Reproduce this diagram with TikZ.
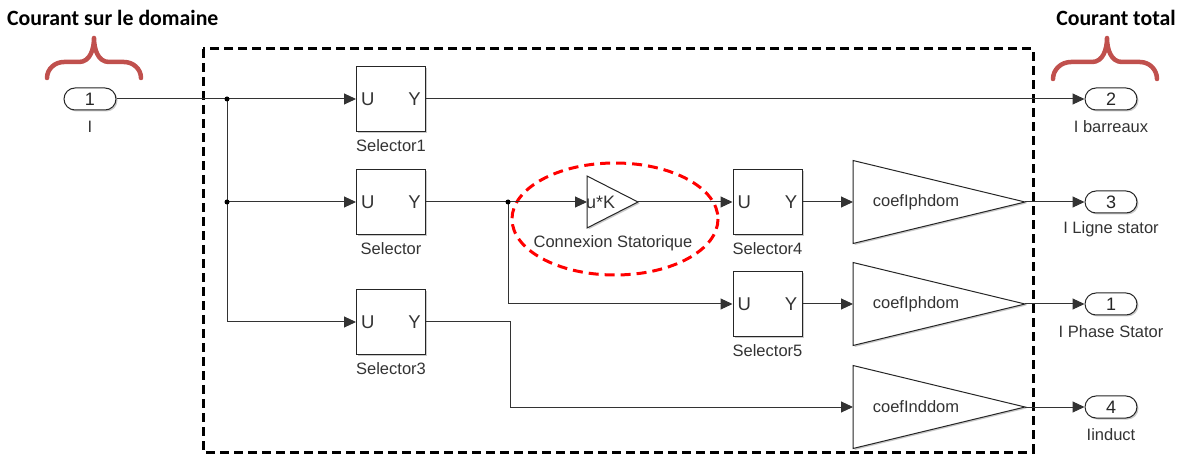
\documentclass[tikz,border=0pt]{standalone}
\usepackage{fontspec}
\setmainfont{Liberation Sans}
\newfontfamily\headfont{Carlito}
\usetikzlibrary{arrows.meta,shadows}

% Selector block: name, x, y, caption
\newcommand\selblock[4]{%
  \node[selbox] (#1) at (#2,#3) {};
  \node[lbl, big, anchor=west] (#1U) at ([xshift=5pt]#1.west) {U};
  \node[lbl, big, anchor=east] (#1Y) at ([xshift=-5pt]#1.east) {Y};
  \node[lbl] (#1cap) at (#2,#3+47) {#4};
}
% Gain triangle: name, y of the row, text
\newcommand\gainblock[3]{%
  \coordinate (#1in) at (853,#2);
  \coordinate (#1top) at (853,#2-41.5);
  \coordinate (#1bot) at (853,#2+41.5);
  \coordinate (#1tip) at (1025,#2);
  \path[draw=black!85, line width=1pt, fill=white, softshadow] (#1top) -- (#1tip) -- (#1bot) -- cycle;
  \node[lbl] (#1txt) at (916,#2) {#3};
}

\definecolor{bracered}{RGB}{192,80,77}

\begin{document}
\begin{tikzpicture}[x=1pt,y=-1pt,
  softshadow/.style={drop shadow={shadow xshift=1.5pt,shadow yshift=-1.5pt,opacity=0.35,fill=black!60}},
  wire/.style={draw=black!80, line width=1pt},
  arr/.style={wire,-{Triangle[length=12pt,width=11pt]}},
  selbox/.style={draw=black!85, line width=1pt, fill=white, minimum width=69pt,
    minimum height=65pt, inner sep=0pt, softshadow},
  port/.style={draw=black!85, line width=1pt, fill=white, rounded corners=11pt,
    minimum width=52pt, minimum height=22pt, inner sep=0pt,
    font=\fontsize{18}{20}\selectfont, text=black!85, softshadow},
  lbl/.style={text=black!80, font=\fontsize{16.5}{19}\selectfont, inner sep=0pt},
  big/.style={font=\fontsize{18.5}{21}\selectfont},
  head/.style={text=black, font=\headfont\bfseries\fontsize{21.8}{26}\selectfont, inner sep=0pt},
  brace/.style={draw=bracered, line width=4.5pt, line cap=round, line join=round},
  dot/.style={fill=black, circle, inner sep=0pt, minimum size=5pt}
]
\useasboundingbox (0,0) rectangle (1184,454);

% headings and red braces
\node[head, anchor=west] (hin) at (7,18) {Courant sur le domaine};
\node[head] (hout) at (1116,18) {Courant total};
\draw[brace] (47,78) to[out=90,in=180] (64,62) -- (79,62) to[out=0,in=-90] (94,38)
  to[out=-90,in=180] (109,62) -- (124,62) to[out=0,in=90] (141,78);
\draw[brace] (1053,79) to[out=90,in=180] (1071,62) -- (1092,62) to[out=0,in=-90] (1107,38)
  to[out=-90,in=180] (1122,62) -- (1140,62) to[out=0,in=90] (1157,79);

% subsystem boundary
\draw[line width=3pt, dash pattern=on 9pt off 5pt] (203,49) rectangle (1033,452);

% input port
\node[port] (in1) at (90,99) {1};
\node[lbl] (in1cap) at (90,127) {I};

% selectors
\selblock{sa}{391}{99}{Selector1}
\selblock{sb}{391}{202}{Selector}
\selblock{sc}{391}{322}{Selector3}
\selblock{sd}{767.5}{202}{Selector4}
\selblock{se}{767.5}{304}{Selector5}

% stator connection gain
\coordinate (kin) at (587,202);
\coordinate (ktop) at (587,176);
\coordinate (kbot) at (587,228);
\coordinate (ktip) at (638,202);
\path[draw=black!85, line width=1pt, fill=white, softshadow] (ktop) -- (ktip) -- (kbot) -- cycle;
\node[lbl, font=\fontsize{18}{20}\selectfont, anchor=west] (ktxt) at (586,202) {u*K};
\node[lbl] (kcap) at (613,243) {Connexion Statorique};
\draw[red, line width=3pt, dash pattern=on 10pt off 6pt] (615,219) ellipse [x radius=103, y radius=56];

% output gains
\gainblock{ga}{202}{coefIphdom}
\gainblock{gb}{304}{coefIphdom}
\gainblock{gc}{407}{coefInddom}

% output ports
\node[port] (o2) at (1111,99) {2};
\node[lbl] (o2cap) at (1111,127) {I barreaux};
\node[port] (o3) at (1111,202) {3};
\node[lbl] (o3cap) at (1111,229) {I Ligne stator};
\node[port] (o1) at (1111,304) {1};
\node[lbl] (o1cap) at (1111,332) {I Phase Stator};
\node[port] (o4) at (1111,407) {4};
\node[lbl] (o4cap) at (1111,435) {Iinduct};

% branch points
\coordinate (j1) at (227,99);
\coordinate (j2) at (227,202);
\coordinate (j3) at (508,202);
\coordinate (b3) at (510,407);

% signal lines
\draw[wire] (in1.east) -- (j1);
\draw[arr] (j1) -- (sa.west);
\draw[arr] (j1) |- (sc.west);
\draw[arr] (j2) -- (sb.west);
\draw[arr] (sa.east) -- (o2.west);
\draw[arr] (sb.east) -- (kin);
\draw[arr] (j3) |- (se.west);
\draw[arr] (ktip) -- (sd.west);
\draw[arr] (sc.east) -| (b3) -- (gcin);
\draw[arr] (sd.east) -- (gain);
\draw[arr] (se.east) -- (gbin);
\draw[arr] (gatip) -- (o3.west);
\draw[arr] (gbtip) -- (o1.west);
\draw[arr] (gctip) -- (o4.west);
\node[dot] (d1) at (j1) {};
\node[dot] (d2) at (j2) {};
\node[dot] (d3) at (j3) {};
\end{tikzpicture}
\end{document}
